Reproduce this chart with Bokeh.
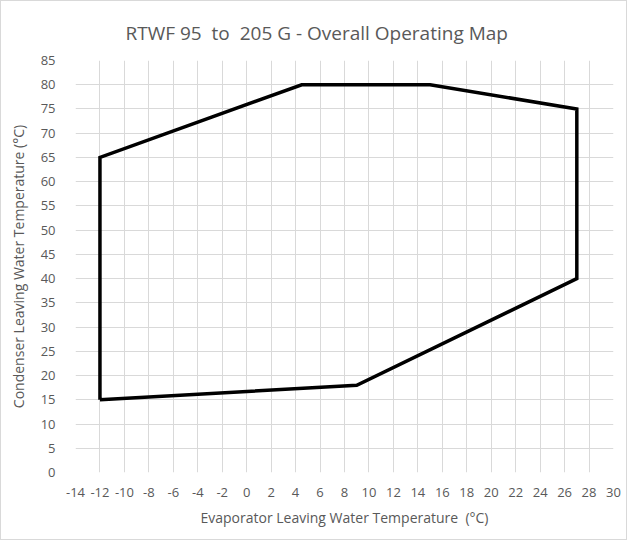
from bokeh.plotting import figure
from bokeh.embed import file_html
from bokeh.resources import INLINE
from bokeh.models import FixedTicker, Range1d

# Operating envelope (evaporator LWT, condenser LWT)
evap_lwt = [-12, -12, 4.5, 15, 27, 27, 9, -12]
cond_lwt = [15, 65, 80, 80, 75, 40, 18, 15]

x_ticks = list(range(-14, 31, 2))
y_ticks = list(range(0, 86, 5))
x_tick_labels = {t: str(t) for t in x_ticks}   # plain hyphen-minus like Excel

title_text = "RTWF 95 \u00a0to \u00a0205 G - Overall Operating Map"
x_label = "Evaporator Leaving Water Temperature \u00a0(°C)"
y_label = "Condenser Leaving Water Temperature (°C)"

FONT = "Open Sans"
GRAY = "#595959"

p = figure(width=627, height=540, output_backend="svg", toolbar_location=None,
           x_range=Range1d(-14, 30), y_range=Range1d(0, 85),
           min_border_left=74, min_border_right=15, min_border_top=59, min_border_bottom=69)
p.styles = {"border": "1px solid #d9d9d9"}

p.title.text = title_text
p.title.align = "left"
p.title.text_font = FONT
p.title.text_font_size = "19px"
p.title.text_font_style = "normal"
p.title.text_color = GRAY
p.title.offset = 50
p.title.standoff = 30

p.outline_line_color = None

p.line(evap_lwt, cond_lwt, line_color="black", line_width=3.5, line_join="miter")

p.xaxis.ticker = FixedTicker(ticks=x_ticks)
p.yaxis.ticker = FixedTicker(ticks=y_ticks)
p.xaxis.major_label_overrides = x_tick_labels
for ax in (p.xaxis, p.yaxis):
    ax.axis_line_color = None
    ax.major_tick_line_color = None
    ax.minor_tick_line_color = None
    ax.major_label_text_font = FONT
    ax.major_label_text_font_size = "13px"
    ax.major_label_text_color = GRAY
    ax.axis_label_text_font = FONT
    ax.axis_label_text_font_size = "14px"
    ax.axis_label_text_font_style = "normal"
    ax.axis_label_text_color = GRAY

p.xaxis.major_label_standoff = 9
p.yaxis.major_label_standoff = 14
p.xaxis.axis_label = x_label
p.yaxis.axis_label = y_label
p.xaxis.axis_label_standoff = 8
p.yaxis.axis_label_standoff = 10

p.xgrid.grid_line_color = "#d9d9d9"
p.ygrid.grid_line_color = "#d9d9d9"
p.xgrid.grid_line_width = 1
p.ygrid.grid_line_width = 1

open("out.html", "w").write(file_html(p, INLINE))
